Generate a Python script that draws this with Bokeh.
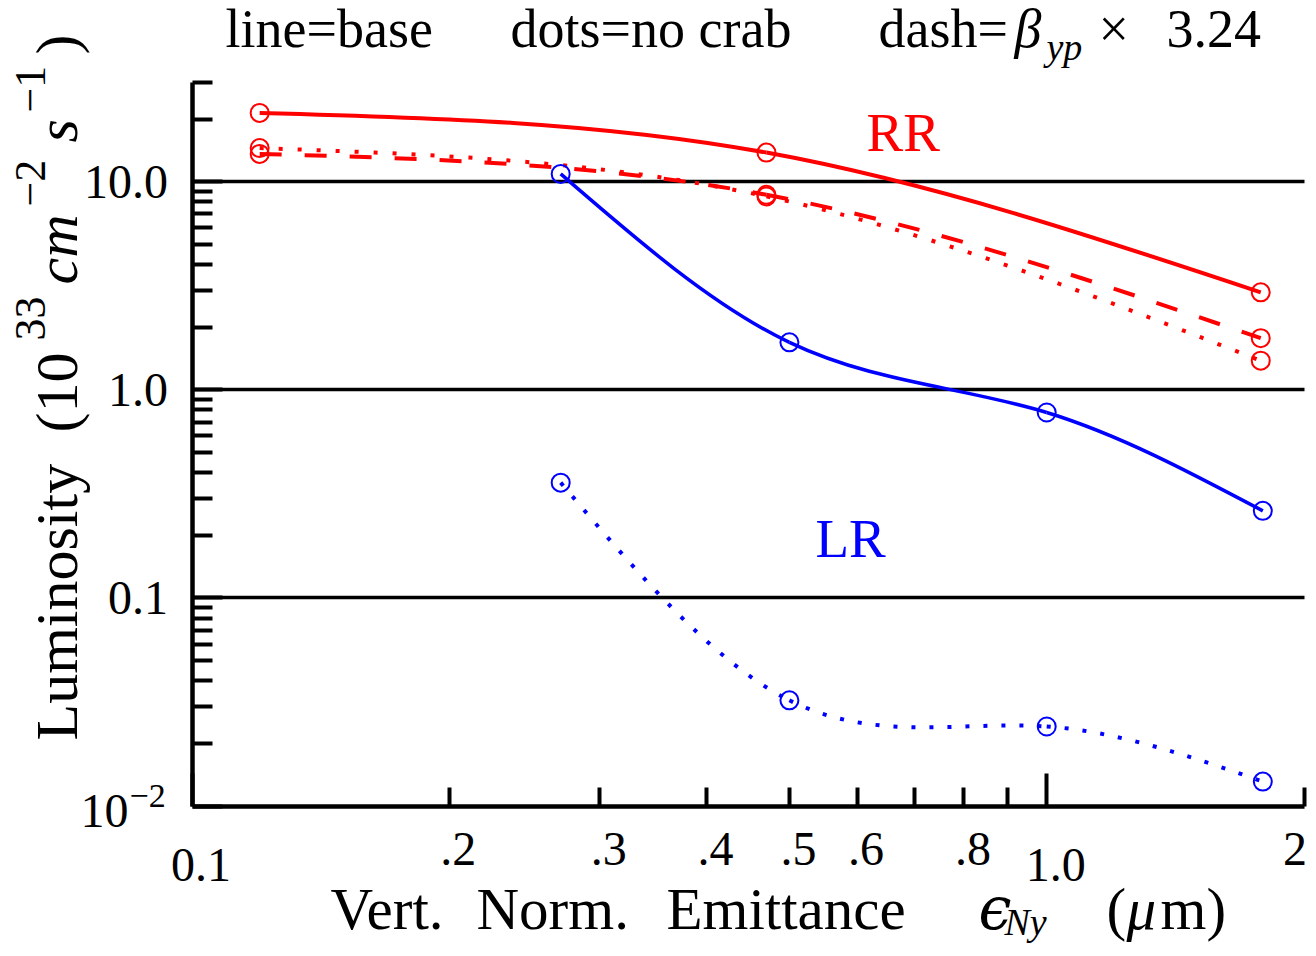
import numpy as np
from bokeh.plotting import figure
from bokeh.models import Label, FixedTicker, Range1d
from bokeh.embed import file_html
from bokeh.resources import INLINE

# ---------------- data ----------------
rr_x = [0.12, 0.47, 1.78]
rr_base = [21.4, 13.8, 2.94]        # line = base
rr_nocrab = [14.5, 8.5, 1.38]       # dots = no crab
rr_beta = [13.6, 8.65, 1.77]        # dash = beta_yp x 3.24

lr_x = [0.27, 0.50, 1.0, 1.79]
lr_base = [10.9, 1.69, 0.778, 0.262]
lr_nocrab = [0.358, 0.0322, 0.0241, 0.0131]

x_tick_vals = [0.1, 0.2, 0.3, 0.4, 0.5, 0.6, 0.8, 1.0, 2.0]
x_tick_labels = ["0.1", ".2", ".3", ".4", ".5", ".6", ".8", "1.0", "2"]
x_minor_ticks = [0.2, 0.3, 0.4, 0.5, 0.6, 0.7, 0.8, 0.9, 2.0]
y_tick_vals = [0.01, 0.1, 1.0, 10.0]
y_tick_labels = ["", "0.1", "1.0", "10.0"]
y_grid_vals = [0.1, 1.0, 10.0]

XMIN, XMAX = 0.1, 2.0
YMIN, YMAX = 0.01, 30.0

RED = "#ff0000"
BLUE = "#0000ff"
FONT = "Liberation Serif"

# canvas / axes-box geometry in pixels
W, H = 1308, 948
PX_L, PX_R = 191.5, 1303.5
PX_T, PX_B = 81.9, 805.5

ppd_x = (PX_R - PX_L) / np.log10(XMAX / XMIN)
ppd_y = (PX_B - PX_T) / np.log10(YMAX / YMIN)
x_start = 10 ** (np.log10(XMIN) - PX_L / ppd_x)
x_end = 10 ** (np.log10(XMAX) + (W - PX_R) / ppd_x)
y_start = 10 ** (np.log10(YMIN) - (H - PX_B) / ppd_y)
y_end = 10 ** (np.log10(YMAX) + PX_T / ppd_y)

p = figure(width=W, height=H, x_axis_type="log", y_axis_type="log",
           x_range=Range1d(x_start, x_end), y_range=Range1d(y_start, y_end),
           output_backend="svg", toolbar_location=None, min_border=0)
p.outline_line_color = None
p.title.visible = False
p.background_fill_color = "white"
p.border_fill_color = "white"

# grid
p.xgrid.visible = False
p.ygrid.ticker = FixedTicker(ticks=y_grid_vals)
p.ygrid.grid_line_color = "black"
p.ygrid.grid_line_width = 3.6
p.ygrid.grid_line_alpha = 1.0
p.ygrid.cross_bounds = (XMIN, XMAX)

# x axis (drawn at y = YMIN)
xa = p.xaxis[0]
xa.fixed_location = YMIN
xa.bounds = (XMIN, XMAX)
xa.ticker = FixedTicker(ticks=[0.1, 1.0], minor_ticks=x_minor_ticks)
xa.axis_line_width = 4.5
xa.axis_line_color = "black"
xa.major_tick_in = 33
xa.major_tick_out = 0
xa.minor_tick_in = 19
xa.minor_tick_out = 0
xa.major_tick_line_width = 4
xa.minor_tick_line_width = 4
xa.major_tick_line_color = "black"
xa.minor_tick_line_color = "black"
xa.major_label_overrides = {0.1: "", 1.0: ""}
xa.major_label_text_font_size = "1px"

# y axis (drawn at x = XMIN)
ya = p.yaxis[0]
ya.fixed_location = XMIN
ya.bounds = (YMIN, YMAX)
y_minor = []
for dec in [0.01, 0.1, 1.0, 10.0]:
    for m in range(2, 10):
        if dec * m <= YMAX + 1e-9:
            y_minor.append(dec * m)
ya.ticker = FixedTicker(ticks=y_tick_vals, minor_ticks=y_minor)
ya.axis_line_width = 4.5
ya.axis_line_color = "black"
ya.major_tick_in = 30
ya.major_tick_out = 0
ya.minor_tick_in = 20
ya.minor_tick_out = 0
ya.major_tick_line_width = 4
ya.minor_tick_line_width = 4
ya.major_tick_line_color = "black"
ya.minor_tick_line_color = "black"
ya.major_label_overrides = dict(zip(y_tick_vals, y_tick_labels))
ya.major_label_text_font = FONT
ya.major_label_text_font_size = "48px"
ya.major_label_text_color = "black"
ya.major_label_standoff = 24


# ---------------- smooth curves (cubic spline in log-log space as Beziers) ----
def spline_beziers(xs, ys):
    u = np.log10(np.asarray(xs, float))
    v = np.log10(np.asarray(ys, float))
    n = len(u)
    h = np.diff(u)
    M = np.zeros(n)
    if n > 2:
        A = np.zeros((n - 2, n - 2))
        r = np.zeros(n - 2)
        for i in range(1, n - 1):
            A[i - 1, i - 1] = 2 * (h[i - 1] + h[i])
            if i - 2 >= 0:
                A[i - 1, i - 2] = h[i - 1]
            if i < n - 2:
                A[i - 1, i] = h[i]
            r[i - 1] = 6 * ((v[i + 1] - v[i]) / h[i] - (v[i] - v[i - 1]) / h[i - 1])
        M[1:-1] = np.linalg.solve(A, r)
    seg = dict(x0=[], y0=[], x1=[], y1=[], cx0=[], cy0=[], cx1=[], cy1=[])
    for i in range(n - 1):
        s = (v[i + 1] - v[i]) / h[i]
        d0 = s - h[i] * (2 * M[i] + M[i + 1]) / 6
        d1 = s + h[i] * (M[i] + 2 * M[i + 1]) / 6
        seg["x0"].append(10 ** u[i])
        seg["y0"].append(10 ** v[i])
        seg["x1"].append(10 ** u[i + 1])
        seg["y1"].append(10 ** v[i + 1])
        seg["cx0"].append(10 ** (u[i] + h[i] / 3))
        seg["cy0"].append(10 ** (v[i] + h[i] / 3 * d0))
        seg["cx1"].append(10 ** (u[i + 1] - h[i] / 3))
        seg["cy1"].append(10 ** (v[i + 1] - h[i] / 3 * d1))
    return seg


series = [
    (rr_x, rr_base, RED, 4, "solid"),
    (rr_x, rr_beta, RED, 4, "22 23"),
    (rr_x, rr_nocrab, RED, 4, "4 15"),
    (lr_x, lr_base, BLUE, 3.5, "solid"),
    (lr_x, lr_nocrab, BLUE, 4, "4 14"),
]
for xs, ys, col, lw, dash in series:
    p.bezier(**spline_beziers(xs, ys), line_color=col, line_width=lw, line_dash=dash)
    p.scatter(xs, ys, marker="circle", size=18, fill_color=None,
              line_color=col, line_width=2)


# ---------------- texts (positions in canvas pixels, y downward, baseline) ----------
K_H, K_R = 0.37, 0.45   # empirical baseline correction of the label box


def lab(text, x, y, size, color="black", style="normal", font=FONT,
        angle=0.0, align="left", x_units="screen", x_offset=0):
    if angle == 0.0:
        ys = H - y + K_H * size
        xs = x
    else:
        ys = H - y
        xs = x - K_R * size if x_units == "screen" else x
    p.add_layout(Label(x=xs, y=ys, x_units=x_units, y_units="screen", text=text,
                       text_font=font, text_font_size=f"{size}px", text_color=color,
                       text_font_style=style, angle=angle, text_align=align,
                       text_baseline="alphabetic", x_offset=x_offset))


# x tick labels
for v, t in zip(x_tick_vals, x_tick_labels):
    is_decade = abs(np.log10(v) - round(np.log10(v))) < 1e-9
    base_y = 882 if is_decade else 866
    off = 9 if "." in t else -9
    lab(t, v, base_y, 48, align="center", x_units="data", x_offset=off)

# 10^-2 label
lab("10", 128, 828, 48, align="right")
lab("\u22122", 129, 808, 34)

# title
lab("line=base", 225, 48, 54)
lab("dots=no crab", 510, 48, 54)
lab("dash=", 878, 48, 54)
lab("\u03b2", 1014, 48, 54, style="italic")
lab("yp", 1046, 61, 38, style="italic")
lab("\u00d7", 1098, 48, 54)
lab("3.24", 1166, 48, 54)

# curve labels
lab("RR", 866, 152, 55, color=RED)
lab("LR", 815, 558, 55, color=BLUE)

# x axis title
XB = 930
lab("Vert.", 330, XB, 59)
lab("Norm.", 476, XB, 59)
lab("Emittance", 666, XB, 59)
lab("\u03f5", 978, XB, 59, style="italic", font="DejaVu Serif")
lab("Ny", 1004, XB + 6, 38, style="italic")
lab("(", 1106, XB, 59)
lab("\u03bc", 1126, XB, 59, style="italic")
lab("m)", 1160, XB, 59)

# y axis title (rotated, reading upward)
R = np.pi / 2
BX = 83
SUP = BX - 33
lab("Luminosity", BX, 740, 60, angle=R)
lab("(10", BX, 432, 60, angle=R)
lab("33", SUP, 340, 44, angle=R)
lab("cm", BX, 284, 60, angle=R, style="italic")
lab("\u22122", SUP, 206, 44, angle=R)
lab("s", BX, 142, 60, angle=R, style="italic")
lab("\u22121", SUP, 112, 44, angle=R)
lab(")", BX, 54, 60, angle=R)

open("out.html", "w").write(file_html(p, INLINE))
